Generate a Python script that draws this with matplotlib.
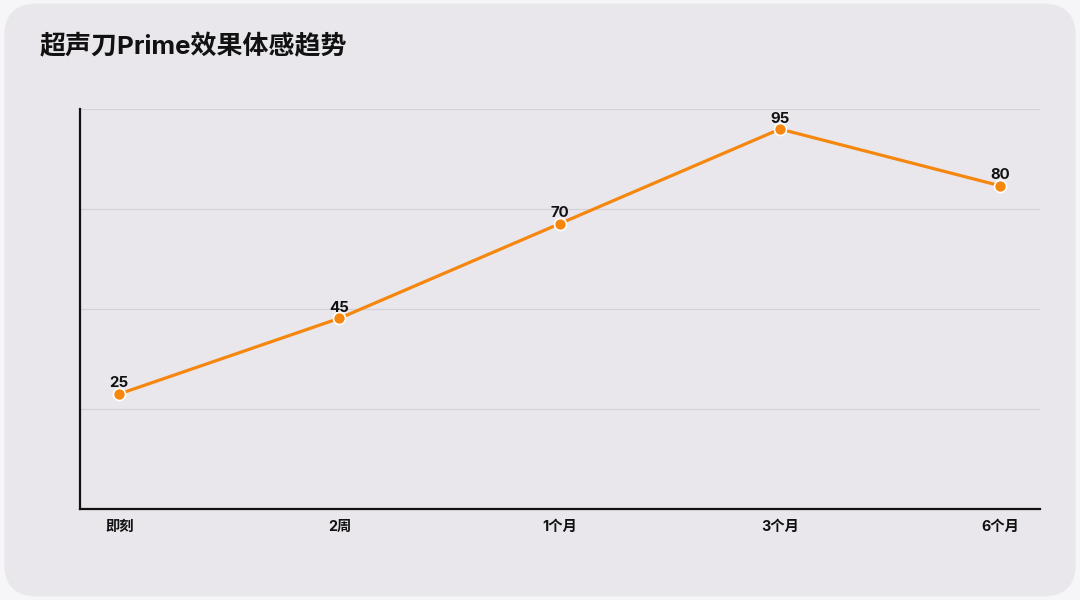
import numpy as np
import matplotlib.pyplot as plt
from matplotlib.patches import FancyBboxPatch

plt.rcParams['font.family'] = ['Inter', 'Noto Sans CJK SC', 'DejaVu Sans']

# data
periods = ['即刻', '2周', '1个月', '3个月', '6个月']
scores = [25, 45, 70, 95, 80]
title = '超声刀Prime效果体感趋势'

orange = '#f5870f'
card = '#e9e7ec'

fig = plt.figure(figsize=(10.8, 6), dpi=100)
fig.patch.set_facecolor('#f6f6f8')
fig.patches.append(FancyBboxPatch((0.004, 0.006), 0.992, 0.988,
                                  boxstyle='round,pad=0,rounding_size=0.03',
                                  transform=fig.transFigure, facecolor=card,
                                  edgecolor='none', mutation_aspect=1.8,
                                  zorder=-10))

ax = fig.add_axes([80 / 1080, 91 / 600, 960 / 1080, 400 / 600])
ax.set_facecolor('none')
ax.set_zorder(2)

x = np.arange(len(periods))
ax.plot(x, scores, color=orange, lw=2.3, zorder=3)
ax.scatter(x, scores, s=75, color=orange, edgecolor='white', linewidth=1.2, zorder=4)
for xi, v in zip(x, scores):
    ax.annotate(str(v), (xi, v), xytext=(0, 2.5), textcoords='offset points',
                ha='center', va='bottom', fontsize=10.8, fontweight='bold',
                color='#111111', zorder=5)

lo, hi = -5.4, 100.3
ax.set_ylim(lo, hi)
ax.set_xlim(-0.178, 4.18)
step = (hi - lo) / 4
ax.set_yticks([lo + step * k for k in range(1, 5)])
ax.yaxis.grid(True, color='#d4d2d8', lw=0.9)
ax.set_axisbelow(True)
ax.tick_params(axis='y', left=False, labelleft=False)
ax.set_xticks(x)
ax.set_xticklabels(periods, fontsize=10.3, fontweight='bold', color='#111111')
ax.tick_params(axis='x', length=0, pad=8)

for side in ['top', 'right']:
    ax.spines[side].set_visible(False)
for side in ['left', 'bottom']:
    ax.spines[side].set_color('#111111')
    ax.spines[side].set_linewidth(1.6)

fig.text(40 / 1080, 1 - 47 / 600, title, fontsize=18.7, fontweight='bold',
         color='#111111', ha='left', va='center', zorder=5)

fig.savefig('out.png', dpi=100, facecolor=fig.get_facecolor())
